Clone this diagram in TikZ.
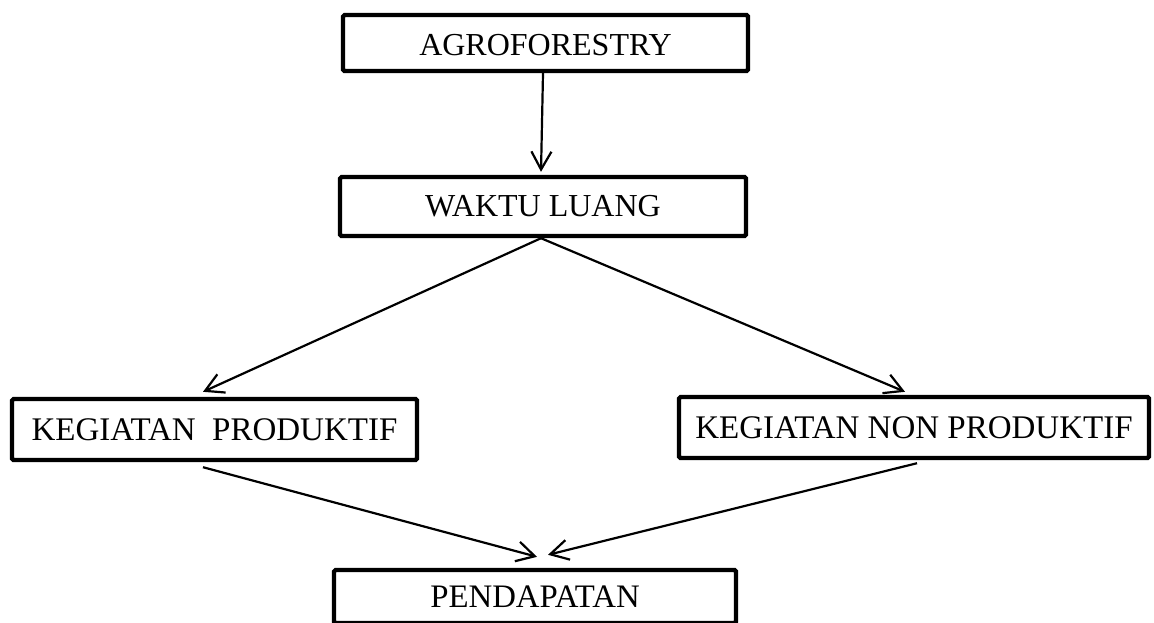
\documentclass[tikz,border=0pt]{standalone}
\usepackage{fontspec}
\setmainfont{Liberation Serif}
\usetikzlibrary{arrows.meta,calc}
\begin{document}
\begin{tikzpicture}[x=0.5pt,y=-0.5pt,
  box/.style={draw=black,line width=2.2pt,fill=white,rounded corners=0.8pt,inner sep=0pt,
    font=\fontsize{16pt}{19pt}\selectfont,text=black},
  bigtext/.style={font=\fontsize{16.5pt}{19pt}\selectfont},
  conn/.style={line width=1.1pt,-{Straight Barb[length=9pt,width=10pt,line width=1.1pt]}}]
\useasboundingbox (0,0) rectangle (1154,622);
\node[box,minimum width=202.5pt,minimum height=28pt,text height=12.2pt,text depth=0pt] (agro) at (545.5,43) {AGROFORESTRY};
\node[box,minimum width=203pt,minimum height=29.5pt] (waktu) at (543,206.5) {WAKTU LUANG};
\node[box,bigtext,minimum width=202.5pt,minimum height=30.5pt] (kp) at (214.5,429.5) {KEGIATAN\ \ PRODUKTIF};
\node[box,bigtext,minimum width=235pt,minimum height=30.5pt] (knp) at (914,427.5) {KEGIATAN NON PRODUKTIF};
\node[box,font=\fontsize{16.4pt}{19pt}\selectfont,minimum width=201pt,minimum height=26.5pt] (pend) at (535,596.5) {PENDAPATAN};
\draw[conn] ($(agro.south)+(-2.5,0)$) -- ($(waktu.north)+(-2,-3)$);
\draw[conn] ($(waktu.south)+(-2,0)$) -- ($(kp.north)+(-11.5,-5)$);
\draw[conn] ($(waktu.south)+(-2,0)$) -- ($(knp.north)+(-9,-3)$);
\draw[conn] ($(kp.south)+(-11.5,5)$) -- ($(pend.north)+(2,-11)$);
\draw[conn] ($(knp.south)+(3,3)$) -- ($(pend.north)+(13,-13)$);
\end{tikzpicture}
\end{document}
